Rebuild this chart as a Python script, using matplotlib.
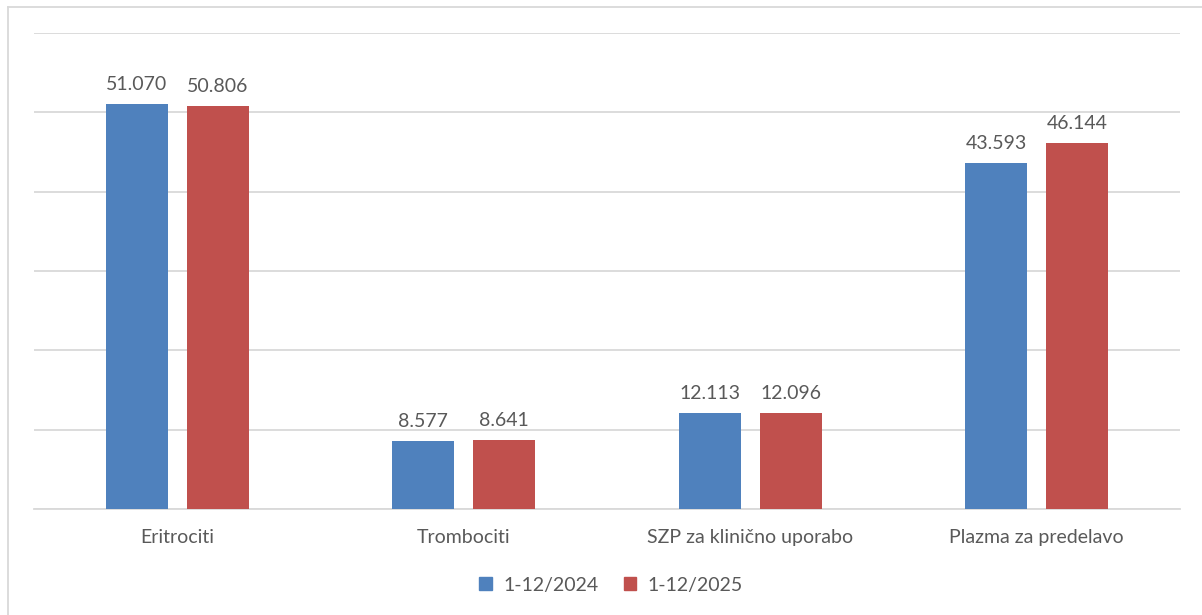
import numpy as np
import matplotlib.pyplot as plt
from matplotlib.lines import Line2D

categories = ['Eritrociti', 'Trombociti', 'SZP za klinično uporabo', 'Plazma za predelavo']
series_names = ['1-12/2024', '1-12/2025']
values_2024 = [51070, 8577, 12113, 43593]
values_2025 = [50806, 8641, 12096, 46144]
colors = ['#4F81BD', '#C0504D']
text_col = '#595959'

plt.rcParams['font.family'] = ['Lato', 'DejaVu Sans']
fs = 14

fig = plt.figure(figsize=(12.02, 6.15), dpi=100)
ax = fig.add_axes([34 / 1202, 1 - 509 / 615, 1146 / 1202, 476 / 615])

x = np.arange(len(categories))
w = 0.217
off = w / 2 + 0.033

for i, (vals, name) in enumerate(zip([values_2024, values_2025], series_names)):
    pos = x - off if i == 0 else x + off
    bars = ax.bar(pos, vals, width=w, color=colors[i], label=name, zorder=3)
    for b, v in zip(bars, vals):
        lbl = f'{v:,}'.replace(',', '.')
        ax.annotate(lbl, (b.get_x() + b.get_width() / 2, v), xytext=(0, 8),
                    textcoords='offset points', ha='center', va='bottom',
                    fontsize=fs, color=text_col)

ax.set_xlim(-0.5, len(categories) - 0.5)
ax.set_ylim(0, 60000)
ax.set_yticks(np.arange(0, 60001, 10000))
ax.yaxis.grid(True, color='#D9D9D9', linewidth=1.3, zorder=0)
ax.tick_params(axis='y', left=False, labelleft=False)
ax.tick_params(axis='x', bottom=False, pad=11, labelsize=fs, labelcolor=text_col)
ax.set_xticks(x)
ax.set_xticklabels(categories)
for s in ['top', 'right', 'left']:
    ax.spines[s].set_visible(False)
ax.spines['bottom'].set_color('#D9D9D9')
ax.spines['bottom'].set_linewidth(1.3)

handles = [plt.Rectangle((0, 0), 1, 1, color=c) for c in colors]
fig.legend(handles, series_names, loc='center', bbox_to_anchor=(611 / 1202, 1 - 585 / 615),
           ncol=2, frameon=False, fontsize=fs, labelcolor=text_col,
           handlelength=0.65, handleheight=0.65, handletextpad=0.6, columnspacing=1.3)

# outer chart border (top and left visible)
fig.add_artist(Line2D([8 / 1202, 8 / 1202], [0, 1 - 7 / 615], transform=fig.transFigure,
                      color='#D9D9D9', linewidth=1.3))
fig.add_artist(Line2D([8 / 1202, 1], [1 - 7 / 615, 1 - 7 / 615], transform=fig.transFigure,
                      color='#D9D9D9', linewidth=1.3))

fig.savefig('out.png', dpi=100)
